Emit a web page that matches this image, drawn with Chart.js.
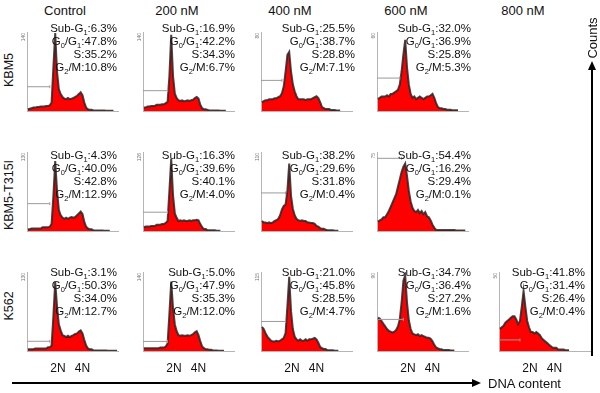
<!DOCTYPE html>
<html>
<head>
<meta charset="utf-8">
<script src="https://cdn.jsdelivr.net/npm/chart.js@4.4.1/dist/chart.umd.min.js"></script>
<style>
    body { margin: 0; background: #fff; }
    #fig { position: relative; width: 600px; height: 393px; overflow: hidden; font-family: Arial, "Liberation Sans", sans-serif; color: #111; }
    .panel { position: absolute; }
    .lbl { position: absolute; white-space: nowrap; }
    .rot { transform: translate(-50%, -50%) rotate(-90deg); }
    .ctr { transform: translate(-50%, -50%); }
    .stats { position: absolute; font-size: 11.5px; line-height: 13px; text-align: right; white-space: nowrap; }
    .s { font-size: 7.5px; vertical-align: -3px; line-height: 0; }
</style>
</head>
<body>
<div id="fig"></div>
<script>
'use strict';

// column / row names
const doses = ['Control', '200 nM', '400 nM', '600 nM', '800 nM'];
const cellLines = ['KBM5', 'KBM5-T315I', 'K562'];

// histogram counts, 50 channel bins each
const kbm5Control = [3,4,5,6,6,7,7,8,8,8,9,9,10,15,78,138,70,39,30,25,22,21,23,21,22,23,25,27,30,33,28,15,6,3,2,2,1,1,1,1,1,1,1,0.5,0.5,0.5,0.5,0.5];
const kbm5Nm200 = [6,6,8,8,9,9,9,11,11,11,12,12,14,16,62,135,62,31,23,19,18,19,17,18,19,18,19,20,23,25,22,11,5,3,3,2,1,1,1,1,1,1,0.5,0.5,0.5,0.5];
const kbm5Nm400 = [9,10,11,11,12,12,12,13,13,14,15,18,25,40,57,60,40,27,20,15,12,12,12,12,11,12,12,12,13,14,15,13,9,4,3,2,2,2,1,1,1,0.5,0.5,0.5];
const kbm5Nm600 = [9,10,11,11,11,12,11,13,13,14,15,16,20,30,43,54,33,20,13,10,11,9,10,11,10,9,10,11,11,12,13,10,6,3,2,2,1.5,1.5,1,1,1,0.5,0.5,0.5,0.5];

const t315Control = [3,3,4,4,4,4,4,4,6,6,6,6,7,12,58,115,66,35,26,22,20,22,20,22,23,22,23,26,29,32,28,15,7,4,3,3,1,1,1,1,1,1,0.5,0.5,0.5,0.5];
const t315Nm200 = [6,7,7,7,8,8,8,10,10,10,11,11,13,16,64,115,57,28,21,16,17,16,17,16,16,17,16,17,17,18,17,11,6,3,3,1,1,1,1,1,0.5,0.5,0.5];
const t315Nm400 = [14,12,12,11,12,11,12,14,15,17,22,30,35,37,56,94,49,31,22,17,15,14,15,14,14,12,12,11,11,10,7,6,4,3,3,2,1,1,1,1,0.5,0.5,0.5];
const t315Nm600 = [9,10,11,13,13,16,19,23,27,31,35,42,49,56,61,64,52,38,28,22,19,18,20,17,19,16,18,14,13,10,6,3,1,1,1,1,1,1,1,1,1,1,1,0.5,0.5,0.5,0.5,0.5,0.5];

const k562Control = [3,3,3,3,4,4,4,4,4,4,4,6,6,9,58,114,73,44,34,26,25,23,25,23,25,26,28,29,32,34,29,18,9,4,3,3,1,1,1,1,1,1,1,1,0.5,0.5,0.5,0.5,0.5,0.5];
const k562Nm200 = [5,5,5,5,5,5,5,5,5,6,6,6,8,13,66,123,76,47,35,28,27,28,27,27,28,27,28,30,33,35,28,17,8,5,3,3,2,2,1,1,1,0.5,0.5,0.5,0.5];
const k562Nm400 = [35,32,26,21,18,15,14,14,15,14,15,17,19,26,65,108,58,32,21,17,15,17,15,15,17,15,17,17,18,19,17,12,6,4,3,3,1,1,1,1,0.5,0.5,0.5];
const k562Nm600 = [38,37,34,31,28,25,23,22,21,22,24,28,36,55,80,86,55,35,25,20,19,18,19,17,18,17,16,15,15,14,11,7,4,3,2,2,1,1,1,1,0.5,0.5,0.5];
const k562Nm800 = [14,15,16,18,19,20,21,22,22,20,17,19,28,38,28,19,15,12,12,11,12,11,10,8,7,6,5,4,3,2,2,2,1,1,1,1,0.5,0.5,0.5];

// y axis top value printed on each panel
const yTop = [[140, 140, 80, 60], [130, 126, 110, 75], [130, 140, 115, 90, 50]];

// M1 gate marker: level (counts) and end (bin)
const gateLevel = [[43, 36, 31, 25], [45, 30, 53, 69], [16, 17, 43, 36, 7]];
const gateEnd = [[12, 13, 11, 12], [12, 13, 13, 13], [12, 13, 13, 14, 11]];

// cell cycle percentages
const subG1 = [[6.3, 16.9, 25.5, 32.0], [4.3, 16.3, 38.2, 54.4], [3.1, 5.0, 21.0, 34.7, 41.8]];
const g0g1 = [[47.8, 42.2, 38.7, 36.9], [40.0, 39.6, 29.6, 16.2], [50.3, 47.9, 45.8, 36.4, 31.4]];
const sPhase = [[35.2, 34.3, 28.8, 25.8], [42.8, 40.1, 31.8, 29.4], [34.0, 35.3, 28.5, 27.2, 26.4]];
const g2m = [[10.8, 6.7, 7.1, 5.3], [12.9, 4.0, 0.4, 0.1], [12.7, 12.0, 4.7, 1.6, 0.4]];

// ploidy labels under the last row
const ploidyNames = ['2N', '4N'];
const ploidyBins = [16.5, 30];

const histograms = [
    [kbm5Control, kbm5Nm200, kbm5Nm400, kbm5Nm600],
    [t315Control, t315Nm200, t315Nm400, t315Nm600],
    [k562Control, k562Nm200, k562Nm400, k562Nm600, k562Nm800]
];

// layout
const axisX = [19, 135, 253, 369, 491];
const textRight = [117, 235, 355, 471, 585];
const rowTop = [29, 149, 269];
const textY = [28, 155, 272];
const headerX = [65, 177, 290, 406, 523];
const rowLabelY = [70, 195, 306];
const PAD_L = 8, PAD_R = 4, PAD_T = 2, PAD_B = 2, PLOT_W = 100, PLOT_H = 90;

const fig = document.getElementById('fig');

function addLabel(text, x, y, size, cls)
{
    const d = document.createElement('div');
    d.className = 'lbl ' + cls;
    d.style.left = x + 'px';
    d.style.top = y + 'px';
    d.style.fontSize = size + 'px';
    d.innerHTML = text;
    fig.appendChild(d);
    return d;
}

const topTickLabel = {
    id: 'topTickLabel',
    afterDraw(chart)
    {
        const ctx = chart.ctx;
        const y = chart.scales.y;
        ctx.save();
        ctx.translate(chart.chartArea.left - 0.5, y.getPixelForValue(y.max) + 1);
        ctx.rotate(-Math.PI / 2);
        ctx.font = '5px Arial';
        ctx.fillStyle = '#777';
        ctx.textAlign = 'right';
        ctx.textBaseline = 'bottom';
        ctx.fillText(String(y.max), 0, 0);
        ctx.restore();
    }
};

doses.forEach((d, c) => addLabel(d, headerX[c], 10, 13, 'ctr'));
cellLines.forEach((n, r) => addLabel(n, 9, rowLabelY[r], 12.5, 'rot'));

for (let r = 0; r < histograms.length; r++)
{
    for (let c = 0; c < histograms[r].length; c++)
    {
        const hist = histograms[r][c];
        const box = document.createElement('div');
        box.className = 'panel';
        const left = axisX[c] - PAD_L;
        const top = rowTop[r] - PAD_T;
        box.style.left = left + 'px';
        box.style.top = top + 'px';
        const cv = document.createElement('canvas');
        cv.width = PAD_L + PLOT_W + PAD_R;
        cv.height = PAD_T + PLOT_H + PAD_B;
        box.appendChild(cv);
        fig.appendChild(box);

        const chart = new Chart(cv.getContext('2d'), {
            type: 'line',
            data: {
                datasets: [
                    {
                        data: [{ x: -0.5, y: gateLevel[r][c] }, { x: gateEnd[r][c], y: gateLevel[r][c] }],
                        borderColor: '#9a9a9a',
                        borderWidth: 1,
                        pointRadius: [0, 1.5],
                        pointStyle: 'line',
                        rotation: 90,
                        pointBorderColor: '#9a9a9a',
                        fill: false
                    },
                    {
                        data: hist.map((v, i) => ({ x: i, y: v })),
                        borderColor: 'rgba(45, 35, 35, 0.85)',
                        borderWidth: 2,
                        backgroundColor: '#ff0000',
                        fill: 'origin',
                        pointRadius: 0,
                        tension: 0
                    }
                ]
            },
            options: {
                responsive: false,
                animation: false,
                events: [],
                layout: { padding: { left: PAD_L, right: PAD_R, top: PAD_T, bottom: PAD_B } },
                plugins: { legend: { display: false }, tooltip: { enabled: false } },
                scales: {
                    x: {
                        type: 'linear', min: -0.5, max: 49.5,
                        ticks: { display: false }, grid: { display: false },
                        border: { display: true, color: '#b5b5b5', width: 1 }
                    },
                    y: {
                        min: 0, max: yTop[r][c],
                        ticks: { display: false }, grid: { display: false },
                        border: { display: true, color: '#b5b5b5', width: 1 }
                    }
                }
            },
            plugins: [topTickLabel]
        });

        // percentages block
        const st = document.createElement('div');
        st.className = 'stats';
        st.style.right = (600 - textRight[c]) + 'px';
        st.style.top = (textY[r] - 6.5) + 'px';
        st.innerHTML =
            'Sub-G<span class="s">1</span>:' + subG1[r][c].toFixed(1) + '%<br>' +
            'G<span class="s">0</span>/G<span class="s">1</span>:' + g0g1[r][c].toFixed(1) + '%<br>' +
            'S:' + sPhase[r][c].toFixed(1) + '%<br>' +
            'G<span class="s">2</span>/M:' + g2m[r][c].toFixed(1) + '%';
        fig.appendChild(st);

        // 2N / 4N under the bottom row
        if (r === histograms.length - 1)
        {
            for (let k = 0; k < ploidyNames.length; k++)
            {
                const px = left + chart.scales.x.getPixelForValue(ploidyBins[k]);
                addLabel(ploidyNames[k], px, 368, 12, 'ctr');
            }
        }
    }
}

// axis arrows
function addBar(x, y, w, h)
{
    const d = document.createElement('div');
    d.style.cssText = `position:absolute;left:${ x }px;top:${ y }px;width:${ w }px;height:${ h }px;background:#000;`;
    fig.appendChild(d);
}
addBar(12, 382, 462, 2);
const headR = document.createElement('div');
headR.style.cssText = 'position:absolute;left:472px;top:379px;width:0;height:0;border-left:9px solid #000;border-top:4px solid transparent;border-bottom:4px solid transparent;';
fig.appendChild(headR);
addLabel('DNA content', 488, 376, 13, '');

addBar(591, 68, 2, 288);
const headU = document.createElement('div');
headU.style.cssText = 'position:absolute;left:588px;top:61px;width:0;height:0;border-bottom:9px solid #000;border-left:4px solid transparent;border-right:4px solid transparent;';
fig.appendChild(headU);
addLabel('Counts', 592, 38, 13, 'rot');
</script>
</body>
</html>
